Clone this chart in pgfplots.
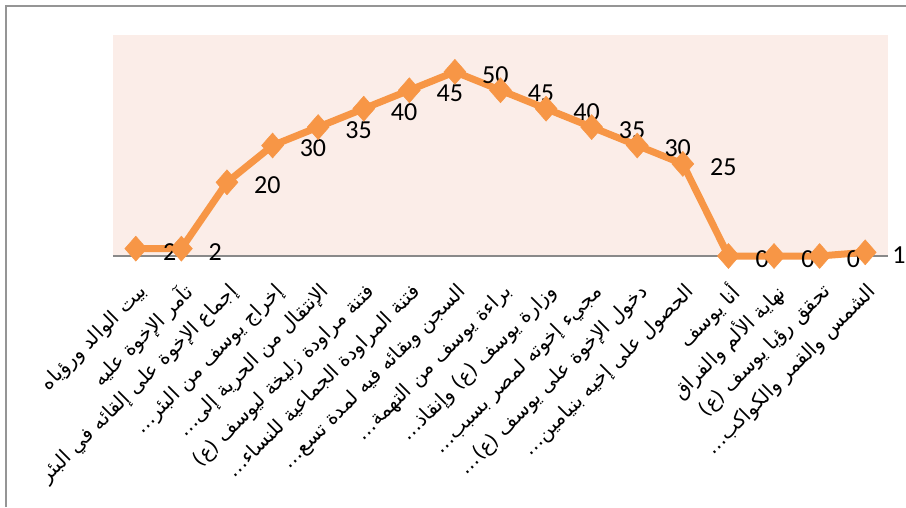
\documentclass[border=0pt]{standalone}
\usepackage{pgfplots}
\pgfplotsset{compat=1.18}
\usepackage{fontspec}
\setmainfont{Carlito}
\newfontfamily\arabicfont[Script=Arabic]{DejaVu Sans}
\TeXXeTstate=1
\definecolor{serieso}{HTML}{F79646}
\definecolor{plotbg}{HTML}{FBEDE8}
\definecolor{axgray}{HTML}{898989}
\begin{document}
\begin{tikzpicture}
\path[use as bounding box, fill=white] (0,0) rectangle (906pt,507pt);
\draw[color=axgray!90, line width=1.5pt] (6pt,0) -- (6pt,501pt) -- (906pt,501pt);
\begin{axis}[
  at={(113pt,251pt)}, anchor=south west,
  scale only axis, width=775pt, height=221pt,
  xmin=-0.5, xmax=16.5, ymin=0, ymax=60,
  axis background/.style={fill=plotbg},
  axis x line*=bottom, axis y line=none,
  x axis line style={axgray, line width=1.5pt},
  xtick={0,...,16}, ytick=\empty, major tick length=0pt,
  xticklabels={
    {\arabicfont\beginR بيت الوالد ورؤياه\endR},
    {\arabicfont\beginR تآمر الإخوة عليه\endR},
    {\arabicfont\beginR إجماع الإخوة على إلقائه في البئر\endR},
    {\arabicfont\beginR إخراج يوسف من البئر…\endR},
    {\arabicfont\beginR الإنتقال من الحرية إلى…\endR},
    {\arabicfont\beginR فتنة مراودة زليخة ليوسف (ع)\endR},
    {\arabicfont\beginR فتنة المراودة الجماعية للنساء…\endR},
    {\arabicfont\beginR السجن وبقائه فيه لمدة تسع…\endR},
    {\arabicfont\beginR براءة يوسف من التهمة…\endR},
    {\arabicfont\beginR وزارة يوسف (ع) وإنقاذ…\endR},
    {\arabicfont\beginR مجيء إخوته لمصر بسبب…\endR},
    {\arabicfont\beginR دخول الإخوة على يوسف (ع)…\endR},
    {\arabicfont\beginR الحصول على إخيه بنيامين…\endR},
    {\arabicfont\beginR أنا يوسف\endR},
    {\arabicfont\beginR نهاية الألم والفراق\endR},
    {\arabicfont\beginR تحقق رؤيا يوسف (ع)\endR},
    {\arabicfont\beginR الشمس والقمر والكواكب…\endR}
  },
  xticklabel style={xshift=8pt, yshift=-33pt, rotate=45, anchor=east, inner sep=0pt,
    font=\fontsize{20}{22}\selectfont},
  clip=false,
  /pgf/number format/assume math mode=true,
  nodes near coords,
  nodes near coords style={anchor=west, xshift=27pt, yshift=-3pt, inner sep=0pt,
    text=black, font=\fontsize{26}{26}\selectfont},
]
\addplot[color=serieso, line width=7pt, mark=diamond*, mark size=12.5pt,
  mark options={xscale=1.17, fill=serieso, draw=serieso, line width=0.5pt}]
  coordinates {
  (0,2) (1,2) (2,20) (3,30) (4,35) (5,40) (6,45) (7,50) (8,45)
  (9,40) (10,35) (11,30) (12,25) (13,0) (14,0) (15,0) (16,1)
  };
\end{axis}
\end{tikzpicture}
\end{document}
